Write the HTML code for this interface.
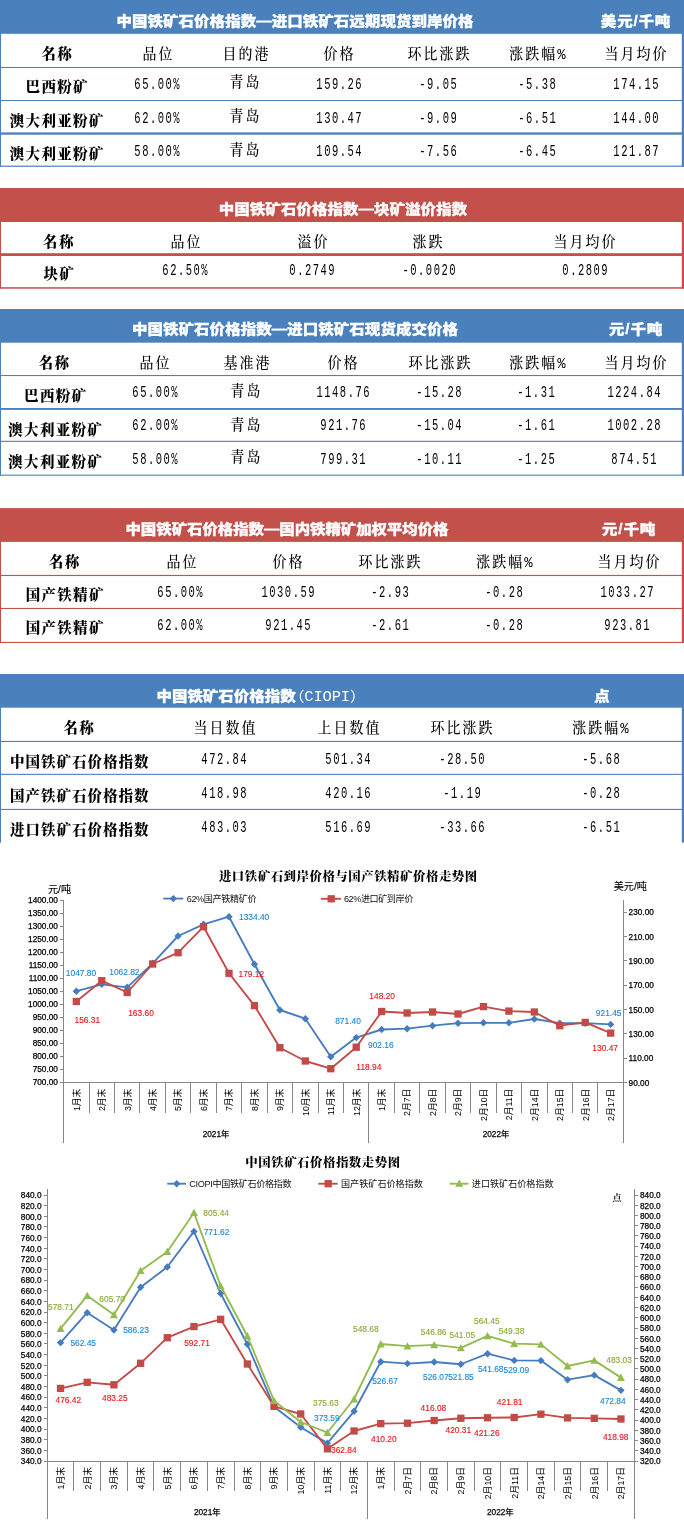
<!DOCTYPE html>
<html lang="zh-CN"><head><meta charset="utf-8"><title>中国铁矿石价格指数</title>
<style>
html,body{margin:0;padding:0;background:#fff;}
body{width:684px;height:1524px;position:relative;overflow:hidden;font-family:"Liberation Sans","Noto Sans CJK SC",sans-serif;}
#bg,#charts{position:absolute;left:0;top:0;width:684px;height:1524px;display:block;}
.t{position:absolute;white-space:nowrap;transform:translate(-50%,-50%);line-height:1;color:#000;}
.h,.h5{font-family:"Liberation Sans","Noto Sans CJK SC",sans-serif;font-weight:900;font-size:14px;color:#fff;letter-spacing:0.05px;transform:translate(-50%,-50%) scaleX(1.105);-webkit-text-stroke:0.3px #fff;}
.hu{letter-spacing:0.75px;}
.h4{letter-spacing:-0.08px;}
.h5 b{font-weight:900;}
.h5 b{letter-spacing:0px;}
.h5 .lt{font-weight:400;font-family:"Liberation Mono","Noto Sans CJK SC",monospace;font-size:14px;letter-spacing:-0.15px;-webkit-text-stroke:0;font-feature-settings:"halt";margin-left:1px;}
.k{font-family:"Liberation Serif","Noto Serif CJK SC",serif;font-size:15px;letter-spacing:2.2px;padding-left:1.2px;font-weight:500;transform:translate(-50%,-50%) scaleX(0.93);}
.b{font-family:"Liberation Serif","Noto Serif CJK SC",serif;font-size:14.5px;letter-spacing:1.3px;padding-left:0.4px;font-weight:900;}
.b5{letter-spacing:1.0px;}
.n{font-family:"Liberation Mono",monospace;font-size:16.4px;letter-spacing:2.35px;padding-left:2.35px;transform:translate(-50%,-50%) scaleX(0.64);}
.kp{font-family:"Liberation Mono","Noto Serif CJK SC",monospace;margin-top:1px;margin-left:-0.5px;}
svg text{font-family:"Liberation Sans","Noto Sans CJK SC",sans-serif;}
.ttl{font-size:12.4px;font-weight:900;fill:#000;letter-spacing:0.55px;font-family:"Liberation Serif","Noto Serif CJK SC",serif;}
.tick{font-size:8.25px;fill:#000;stroke:#000;stroke-width:0.25px;}
.unit{font-size:10.1px;fill:#000;stroke:#000;stroke-width:0.12px;}
.leg{font-size:9.1px;fill:#111;}
.lat{font-size:8.8px;}
.cat{font-size:8.8px;fill:#000;}
.dl{font-size:8.4px;stroke-width:0.12px;}
.pt{font-size:9px;fill:#1a1a2a;font-family:"Liberation Serif","Noto Serif CJK SC",serif;font-weight:700;}
</style></head><body>
<svg id="bg" width="684" height="1524" viewBox="0 0 684 1524">
<rect x="0" y="0" width="684" height="33.8" fill="#4a80bc"/>
<rect x="0" y="33" width="1" height="133.6" fill="#4a80bc"/>
<rect x="681.8" y="33" width="2.2" height="133.6" fill="#4a80bc"/>
<rect x="0" y="66.95" width="684" height="1.05" fill="#4a80bc"/>
<rect x="0" y="100" width="684" height="1.05" fill="#4a80bc"/>
<rect x="0" y="132.4" width="684" height="2.3" fill="#4a80bc"/>
<rect x="0" y="165.6" width="684" height="1.2" fill="#4a80bc"/>
<rect x="0" y="188" width="684" height="34" fill="#c4504c"/>
<rect x="0" y="221" width="1" height="67.6" fill="#c4504c"/>
<rect x="681.8" y="221" width="2.2" height="67.6" fill="#c4504c"/>
<rect x="0" y="253.2" width="684" height="2.8" fill="#c4504c"/>
<rect x="0" y="287.2" width="684" height="1.5" fill="#c4504c"/>
<rect x="0" y="309" width="684" height="33.7" fill="#4a80bc"/>
<rect x="0" y="342" width="1" height="133.6" fill="#4a80bc"/>
<rect x="681.8" y="342" width="2.2" height="133.6" fill="#4a80bc"/>
<rect x="0" y="375" width="684" height="1.05" fill="#4a80bc"/>
<rect x="0" y="408" width="684" height="1.9" fill="#4a80bc"/>
<rect x="0" y="440.8" width="684" height="1.1" fill="#4a80bc"/>
<rect x="0" y="474.6" width="684" height="1.1" fill="#4a80bc"/>
<rect x="0" y="508.1" width="684" height="33.8" fill="#c4504c"/>
<rect x="0" y="541" width="1" height="102" fill="#c4504c"/>
<rect x="681.8" y="541" width="2.2" height="102" fill="#c4504c"/>
<rect x="0" y="574.9" width="684" height="1.15" fill="#c4504c"/>
<rect x="0" y="607.9" width="684" height="1.1" fill="#c4504c"/>
<rect x="0" y="641.9" width="684" height="1.1" fill="#c4504c"/>
<rect x="0" y="674" width="684" height="33.7" fill="#4a80bc"/>
<rect x="0" y="707" width="1" height="135.6" fill="#4a80bc"/>
<rect x="681.8" y="707" width="2.2" height="135.6" fill="#4a80bc"/>
<rect x="0" y="740.9" width="684" height="1.1" fill="#4a80bc"/>
<rect x="0" y="773.8" width="684" height="1.1" fill="#4a80bc"/>
<rect x="0" y="808.9" width="684" height="1.1" fill="#4a80bc"/>
</svg>
<div class="t h" style="left:295px;top:21.3px">中国铁矿石价格指数—进口铁矿石远期现货到岸价格</div>
<div class="t h hu" style="left:636px;top:21.3px">美元/千吨</div>
<div class="t b" style="left:57px;top:54px">名称</div>
<div class="t k" style="left:157.5px;top:54px">品位</div>
<div class="t k" style="left:246px;top:54px">目的港</div>
<div class="t k" style="left:339.3px;top:54px">价格</div>
<div class="t k" style="left:439px;top:54px">环比涨跌</div>
<div class="t k kp" style="left:538.5px;top:54px">涨跌幅%</div>
<div class="t k" style="left:635.8px;top:54px">当月均价</div>
<div class="t b" style="left:57px;top:86.7px">巴西粉矿</div>
<div class="t n" style="left:157.2px;top:84.6px">65.00%</div>
<div class="t k" style="left:245.2px;top:82.3px">青岛</div>
<div class="t n" style="left:338.8px;top:84.6px">159.26</div>
<div class="t n" style="left:438.2px;top:84.6px">-9.05</div>
<div class="t n" style="left:537.2px;top:84.6px">-5.38</div>
<div class="t n" style="left:635.5px;top:84.6px">174.15</div>
<div class="t b" style="left:57px;top:120.8px">澳大利亚粉矿</div>
<div class="t n" style="left:157.2px;top:118.7px">62.00%</div>
<div class="t k" style="left:245.2px;top:116.4px">青岛</div>
<div class="t n" style="left:338.8px;top:118.7px">130.47</div>
<div class="t n" style="left:438.2px;top:118.7px">-9.09</div>
<div class="t n" style="left:537.2px;top:118.7px">-6.51</div>
<div class="t n" style="left:635.5px;top:118.7px">144.00</div>
<div class="t b" style="left:57px;top:154.2px">澳大利亚粉矿</div>
<div class="t n" style="left:157.2px;top:152.1px">58.00%</div>
<div class="t k" style="left:245.2px;top:149.8px">青岛</div>
<div class="t n" style="left:338.8px;top:152.1px">109.54</div>
<div class="t n" style="left:438.2px;top:152.1px">-7.56</div>
<div class="t n" style="left:537.2px;top:152.1px">-6.45</div>
<div class="t n" style="left:635.5px;top:152.1px">121.87</div>
<div class="t h" style="left:342.9px;top:209.2px">中国铁矿石价格指数—块矿溢价指数</div>
<div class="t b" style="left:58.7px;top:242px">名称</div>
<div class="t k" style="left:185.5px;top:242px">品位</div>
<div class="t k" style="left:312.5px;top:242px">溢价</div>
<div class="t k" style="left:428.3px;top:242px">涨跌</div>
<div class="t k" style="left:585.3px;top:242px">当月均价</div>
<div class="t b" style="left:59px;top:274.2px">块矿</div>
<div class="t n" style="left:185px;top:271.4px">62.50%</div>
<div class="t n" style="left:311.8px;top:271.4px">0.2749</div>
<div class="t n" style="left:428.5px;top:271.4px">-0.0020</div>
<div class="t n" style="left:585.2px;top:271.4px">0.2809</div>
<div class="t h" style="left:295.4px;top:329.3px">中国铁矿石价格指数—进口铁矿石现货成交价格</div>
<div class="t h hu" style="left:635.8px;top:329.3px">元/千吨</div>
<div class="t b" style="left:54.3px;top:362.5px">名称</div>
<div class="t k" style="left:154.5px;top:362.5px">品位</div>
<div class="t k" style="left:246.8px;top:362.5px">基准港</div>
<div class="t k" style="left:343px;top:362.5px">价格</div>
<div class="t k" style="left:440.3px;top:362.5px">环比涨跌</div>
<div class="t k kp" style="left:538px;top:362.5px">涨跌幅%</div>
<div class="t k" style="left:635.5px;top:362.5px">当月均价</div>
<div class="t b" style="left:55.5px;top:395.8px">巴西粉矿</div>
<div class="t n" style="left:154.5px;top:392.5px">65.00%</div>
<div class="t k" style="left:246px;top:391.1px">青岛</div>
<div class="t n" style="left:343.1px;top:392.5px">1148.76</div>
<div class="t n" style="left:439px;top:392.5px">-15.28</div>
<div class="t n" style="left:536px;top:392.5px">-1.31</div>
<div class="t n" style="left:634.2px;top:392.5px">1224.84</div>
<div class="t b" style="left:55.5px;top:429.6px">澳大利亚粉矿</div>
<div class="t n" style="left:154.5px;top:426.2px">62.00%</div>
<div class="t k" style="left:246px;top:424.9px">青岛</div>
<div class="t n" style="left:343.1px;top:426.2px">921.76</div>
<div class="t n" style="left:439px;top:426.2px">-15.04</div>
<div class="t n" style="left:536px;top:426.2px">-1.61</div>
<div class="t n" style="left:634.2px;top:426.2px">1002.28</div>
<div class="t b" style="left:55.5px;top:461.5px">澳大利亚粉矿</div>
<div class="t n" style="left:154.5px;top:460.1px">58.00%</div>
<div class="t k" style="left:246px;top:456.8px">青岛</div>
<div class="t n" style="left:343.1px;top:460.1px">799.31</div>
<div class="t n" style="left:439px;top:460.1px">-10.11</div>
<div class="t n" style="left:536px;top:460.1px">-1.25</div>
<div class="t n" style="left:634.2px;top:460.1px">874.51</div>
<div class="t h h4" style="left:287.4px;top:528.8px">中国铁矿石价格指数—国内铁精矿加权平均价格</div>
<div class="t h hu" style="left:628.5px;top:528.8px">元/千吨</div>
<div class="t b" style="left:64.5px;top:562.2px">名称</div>
<div class="t k" style="left:181.7px;top:562.2px">品位</div>
<div class="t k" style="left:288px;top:562.2px">价格</div>
<div class="t k" style="left:390px;top:562.2px">环比涨跌</div>
<div class="t k kp" style="left:505px;top:562.2px">涨跌幅%</div>
<div class="t k" style="left:628.5px;top:562.2px">当月均价</div>
<div class="t b" style="left:65px;top:594.6px">国产铁精矿</div>
<div class="t n" style="left:180.3px;top:592.5px">65.00%</div>
<div class="t n" style="left:287.8px;top:592.5px">1030.59</div>
<div class="t n" style="left:389.7px;top:592.5px">-2.93</div>
<div class="t n" style="left:504.3px;top:592.5px">-0.28</div>
<div class="t n" style="left:627.2px;top:592.5px">1033.27</div>
<div class="t b" style="left:65px;top:628.3px">国产铁精矿</div>
<div class="t n" style="left:180.3px;top:626.2px">62.00%</div>
<div class="t n" style="left:287.8px;top:626.2px">921.45</div>
<div class="t n" style="left:389.7px;top:626.2px">-2.61</div>
<div class="t n" style="left:504.3px;top:626.2px">-0.28</div>
<div class="t n" style="left:627.2px;top:626.2px">923.81</div>
<div class="t h5" style="left:257px;top:695.8px"><b>中国铁矿石价格指数</b><span class="lt">（CIOPI）</span></div>
<div class="t h" style="left:602.2px;top:695.8px">点</div>
<div class="t b" style="left:79px;top:727.8px">名称</div>
<div class="t k" style="left:224.8px;top:727.8px">当日数值</div>
<div class="t k" style="left:349px;top:727.8px">上日数值</div>
<div class="t k" style="left:462.3px;top:727.8px">环比涨跌</div>
<div class="t k kp" style="left:601px;top:727.8px">涨跌幅%</div>
<div class="t b b5" style="left:79.6px;top:761.8px">中国铁矿石价格指数</div>
<div class="t n" style="left:224px;top:759.7px">472.84</div>
<div class="t n" style="left:348px;top:759.7px">501.34</div>
<div class="t n" style="left:462px;top:759.7px">-28.50</div>
<div class="t n" style="left:600.5px;top:759.7px">-5.68</div>
<div class="t b b5" style="left:79.6px;top:795.7px">国产铁矿石价格指数</div>
<div class="t n" style="left:224px;top:793.6px">418.98</div>
<div class="t n" style="left:348px;top:793.6px">420.16</div>
<div class="t n" style="left:462px;top:793.6px">-1.19</div>
<div class="t n" style="left:600.5px;top:793.6px">-0.28</div>
<div class="t b b5" style="left:79.6px;top:829.6px">进口铁矿石价格指数</div>
<div class="t n" style="left:224px;top:827.5px">483.03</div>
<div class="t n" style="left:348px;top:827.5px">516.69</div>
<div class="t n" style="left:462px;top:827.5px">-33.66</div>
<div class="t n" style="left:600.5px;top:827.5px">-6.51</div>
<svg id="charts" width="684" height="1524" viewBox="0 0 684 1524">
<text x="348.3" y="880.6" class="ttl" text-anchor="middle">进口铁矿石到岸价格与国产铁精矿价格走势图</text>
<text x="59.5" y="893.3" class="unit" text-anchor="middle">元/吨</text>
<text x="630.3" y="889.7" class="unit" text-anchor="middle">美元/吨</text>
<line x1="63.6" y1="899.7" x2="63.6" y2="1142.7" stroke="#868686" stroke-width="1" shape-rendering="crispEdges"/>
<line x1="623.4" y1="899.7" x2="623.4" y2="1142.7" stroke="#868686" stroke-width="1" shape-rendering="crispEdges"/>
<line x1="63.6" y1="1082.5" x2="623.4" y2="1082.5" stroke="#868686" stroke-width="1" shape-rendering="crispEdges"/>
<line x1="60.4" y1="900.2" x2="63.6" y2="900.2" stroke="#868686" stroke-width="1" shape-rendering="crispEdges"/>
<text x="57.9" y="903" class="tick" text-anchor="end">1400.00</text>
<line x1="60.4" y1="913.22" x2="63.6" y2="913.22" stroke="#868686" stroke-width="1" shape-rendering="crispEdges"/>
<text x="57.9" y="916.02" class="tick" text-anchor="end">1350.00</text>
<line x1="60.4" y1="926.24" x2="63.6" y2="926.24" stroke="#868686" stroke-width="1" shape-rendering="crispEdges"/>
<text x="57.9" y="929.04" class="tick" text-anchor="end">1300.00</text>
<line x1="60.4" y1="939.26" x2="63.6" y2="939.26" stroke="#868686" stroke-width="1" shape-rendering="crispEdges"/>
<text x="57.9" y="942.06" class="tick" text-anchor="end">1250.00</text>
<line x1="60.4" y1="952.29" x2="63.6" y2="952.29" stroke="#868686" stroke-width="1" shape-rendering="crispEdges"/>
<text x="57.9" y="955.09" class="tick" text-anchor="end">1200.00</text>
<line x1="60.4" y1="965.31" x2="63.6" y2="965.31" stroke="#868686" stroke-width="1" shape-rendering="crispEdges"/>
<text x="57.9" y="968.11" class="tick" text-anchor="end">1150.00</text>
<line x1="60.4" y1="978.33" x2="63.6" y2="978.33" stroke="#868686" stroke-width="1" shape-rendering="crispEdges"/>
<text x="57.9" y="981.13" class="tick" text-anchor="end">1100.00</text>
<line x1="60.4" y1="991.35" x2="63.6" y2="991.35" stroke="#868686" stroke-width="1" shape-rendering="crispEdges"/>
<text x="57.9" y="994.15" class="tick" text-anchor="end">1050.00</text>
<line x1="60.4" y1="1004.37" x2="63.6" y2="1004.37" stroke="#868686" stroke-width="1" shape-rendering="crispEdges"/>
<text x="57.9" y="1007.17" class="tick" text-anchor="end">1000.00</text>
<line x1="60.4" y1="1017.39" x2="63.6" y2="1017.39" stroke="#868686" stroke-width="1" shape-rendering="crispEdges"/>
<text x="57.9" y="1020.19" class="tick" text-anchor="end">950.00</text>
<line x1="60.4" y1="1030.41" x2="63.6" y2="1030.41" stroke="#868686" stroke-width="1" shape-rendering="crispEdges"/>
<text x="57.9" y="1033.21" class="tick" text-anchor="end">900.00</text>
<line x1="60.4" y1="1043.44" x2="63.6" y2="1043.44" stroke="#868686" stroke-width="1" shape-rendering="crispEdges"/>
<text x="57.9" y="1046.24" class="tick" text-anchor="end">850.00</text>
<line x1="60.4" y1="1056.46" x2="63.6" y2="1056.46" stroke="#868686" stroke-width="1" shape-rendering="crispEdges"/>
<text x="57.9" y="1059.26" class="tick" text-anchor="end">800.00</text>
<line x1="60.4" y1="1069.48" x2="63.6" y2="1069.48" stroke="#868686" stroke-width="1" shape-rendering="crispEdges"/>
<text x="57.9" y="1072.28" class="tick" text-anchor="end">750.00</text>
<line x1="60.4" y1="1082.5" x2="63.6" y2="1082.5" stroke="#868686" stroke-width="1" shape-rendering="crispEdges"/>
<text x="57.9" y="1085.3" class="tick" text-anchor="end">700.00</text>
<line x1="623.4" y1="912.35" x2="626.6" y2="912.35" stroke="#868686" stroke-width="1" shape-rendering="crispEdges"/>
<text x="628.6" y="915.35" class="tick" text-anchor="start">230.00</text>
<line x1="623.4" y1="936.66" x2="626.6" y2="936.66" stroke="#868686" stroke-width="1" shape-rendering="crispEdges"/>
<text x="628.6" y="939.66" class="tick" text-anchor="start">210.00</text>
<line x1="623.4" y1="960.97" x2="626.6" y2="960.97" stroke="#868686" stroke-width="1" shape-rendering="crispEdges"/>
<text x="628.6" y="963.97" class="tick" text-anchor="start">190.00</text>
<line x1="623.4" y1="985.27" x2="626.6" y2="985.27" stroke="#868686" stroke-width="1" shape-rendering="crispEdges"/>
<text x="628.6" y="988.27" class="tick" text-anchor="start">170.00</text>
<line x1="623.4" y1="1009.58" x2="626.6" y2="1009.58" stroke="#868686" stroke-width="1" shape-rendering="crispEdges"/>
<text x="628.6" y="1012.58" class="tick" text-anchor="start">150.00</text>
<line x1="623.4" y1="1033.89" x2="626.6" y2="1033.89" stroke="#868686" stroke-width="1" shape-rendering="crispEdges"/>
<text x="628.6" y="1036.89" class="tick" text-anchor="start">130.00</text>
<line x1="623.4" y1="1058.19" x2="626.6" y2="1058.19" stroke="#868686" stroke-width="1" shape-rendering="crispEdges"/>
<text x="628.6" y="1061.19" class="tick" text-anchor="start">110.00</text>
<line x1="623.4" y1="1082.5" x2="626.6" y2="1082.5" stroke="#868686" stroke-width="1" shape-rendering="crispEdges"/>
<text x="628.6" y="1085.5" class="tick" text-anchor="start">90.00</text>
<line x1="89.05" y1="1082.5" x2="89.05" y2="1112.7" stroke="#868686" stroke-width="1" shape-rendering="crispEdges"/>
<line x1="114.49" y1="1082.5" x2="114.49" y2="1112.7" stroke="#868686" stroke-width="1" shape-rendering="crispEdges"/>
<line x1="139.94" y1="1082.5" x2="139.94" y2="1112.7" stroke="#868686" stroke-width="1" shape-rendering="crispEdges"/>
<line x1="165.38" y1="1082.5" x2="165.38" y2="1112.7" stroke="#868686" stroke-width="1" shape-rendering="crispEdges"/>
<line x1="190.83" y1="1082.5" x2="190.83" y2="1112.7" stroke="#868686" stroke-width="1" shape-rendering="crispEdges"/>
<line x1="216.27" y1="1082.5" x2="216.27" y2="1112.7" stroke="#868686" stroke-width="1" shape-rendering="crispEdges"/>
<line x1="241.72" y1="1082.5" x2="241.72" y2="1112.7" stroke="#868686" stroke-width="1" shape-rendering="crispEdges"/>
<line x1="267.16" y1="1082.5" x2="267.16" y2="1112.7" stroke="#868686" stroke-width="1" shape-rendering="crispEdges"/>
<line x1="292.61" y1="1082.5" x2="292.61" y2="1112.7" stroke="#868686" stroke-width="1" shape-rendering="crispEdges"/>
<line x1="318.05" y1="1082.5" x2="318.05" y2="1112.7" stroke="#868686" stroke-width="1" shape-rendering="crispEdges"/>
<line x1="343.5" y1="1082.5" x2="343.5" y2="1112.7" stroke="#868686" stroke-width="1" shape-rendering="crispEdges"/>
<line x1="368.95" y1="1082.5" x2="368.95" y2="1142.7" stroke="#868686" stroke-width="1" shape-rendering="crispEdges"/>
<line x1="394.39" y1="1082.5" x2="394.39" y2="1112.7" stroke="#868686" stroke-width="1" shape-rendering="crispEdges"/>
<line x1="419.84" y1="1082.5" x2="419.84" y2="1112.7" stroke="#868686" stroke-width="1" shape-rendering="crispEdges"/>
<line x1="445.28" y1="1082.5" x2="445.28" y2="1112.7" stroke="#868686" stroke-width="1" shape-rendering="crispEdges"/>
<line x1="470.73" y1="1082.5" x2="470.73" y2="1112.7" stroke="#868686" stroke-width="1" shape-rendering="crispEdges"/>
<line x1="496.17" y1="1082.5" x2="496.17" y2="1112.7" stroke="#868686" stroke-width="1" shape-rendering="crispEdges"/>
<line x1="521.62" y1="1082.5" x2="521.62" y2="1112.7" stroke="#868686" stroke-width="1" shape-rendering="crispEdges"/>
<line x1="547.06" y1="1082.5" x2="547.06" y2="1112.7" stroke="#868686" stroke-width="1" shape-rendering="crispEdges"/>
<line x1="572.51" y1="1082.5" x2="572.51" y2="1112.7" stroke="#868686" stroke-width="1" shape-rendering="crispEdges"/>
<line x1="597.95" y1="1082.5" x2="597.95" y2="1112.7" stroke="#868686" stroke-width="1" shape-rendering="crispEdges"/>
<text transform="translate(79.62 1088.6) rotate(-90)" class="cat" text-anchor="end">1月末</text>
<text transform="translate(105.07 1088.6) rotate(-90)" class="cat" text-anchor="end">2月末</text>
<text transform="translate(130.51 1088.6) rotate(-90)" class="cat" text-anchor="end">3月末</text>
<text transform="translate(155.96 1088.6) rotate(-90)" class="cat" text-anchor="end">4月末</text>
<text transform="translate(181.4 1088.6) rotate(-90)" class="cat" text-anchor="end">5月末</text>
<text transform="translate(206.85 1088.6) rotate(-90)" class="cat" text-anchor="end">6月末</text>
<text transform="translate(232.3 1088.6) rotate(-90)" class="cat" text-anchor="end">7月末</text>
<text transform="translate(257.74 1088.6) rotate(-90)" class="cat" text-anchor="end">8月末</text>
<text transform="translate(283.19 1088.6) rotate(-90)" class="cat" text-anchor="end">9月末</text>
<text transform="translate(308.63 1088.6) rotate(-90)" class="cat" text-anchor="end">10月末</text>
<text transform="translate(334.08 1088.6) rotate(-90)" class="cat" text-anchor="end">11月末</text>
<text transform="translate(359.52 1088.6) rotate(-90)" class="cat" text-anchor="end">12月末</text>
<text transform="translate(384.97 1088.6) rotate(-90)" class="cat" text-anchor="end">1月末</text>
<text transform="translate(410.41 1088.6) rotate(-90)" class="cat" text-anchor="end">2月7日</text>
<text transform="translate(435.86 1088.6) rotate(-90)" class="cat" text-anchor="end">2月8日</text>
<text transform="translate(461.3 1088.6) rotate(-90)" class="cat" text-anchor="end">2月9日</text>
<text transform="translate(486.75 1088.6) rotate(-90)" class="cat" text-anchor="end">2月10日</text>
<text transform="translate(512.2 1088.6) rotate(-90)" class="cat" text-anchor="end">2月11日</text>
<text transform="translate(537.64 1088.6) rotate(-90)" class="cat" text-anchor="end">2月14日</text>
<text transform="translate(563.09 1088.6) rotate(-90)" class="cat" text-anchor="end">2月15日</text>
<text transform="translate(588.53 1088.6) rotate(-90)" class="cat" text-anchor="end">2月16日</text>
<text transform="translate(613.98 1088.6) rotate(-90)" class="cat" text-anchor="end">2月17日</text>
<text x="216" y="1137.2" class="tick" text-anchor="middle">2021年</text>
<text x="496" y="1137.2" class="tick" text-anchor="middle">2022年</text>
<line x1="163.3" y1="898.6" x2="183.3" y2="898.6" stroke="#467cbf" stroke-width="1.85"/>
<path d="M169.6 898.6L173.3 894.9L177 898.6L173.3 902.3Z" fill="#467cbf"/>
<text x="186.7" y="901.9" class="leg" text-anchor="start" textLength="70" lengthAdjust="spacing">62%国产铁精矿价</text>
<line x1="320.8" y1="898.8" x2="341" y2="898.8" stroke="#c24a47" stroke-width="1.85"/>
<rect x="327.55" y="895.15" width="7.3" height="7.3" fill="#c24a47"/>
<text x="344" y="901.9" class="leg" text-anchor="start" textLength="69.3" lengthAdjust="spacing">62%进口矿到岸价</text>
<polyline fill="none" stroke="#467cbf" stroke-width="1.85" stroke-linejoin="round" stroke-linecap="round" points="76.32,991.2 101.77,984.3 127.21,987.3 152.66,963.3 178.1,936 203.55,924.3 229,916.7 254.44,964.3 279.89,1010 305.33,1018.7 330.78,1056.7 356.22,1037.6 381.67,1029.5 407.11,1028.7 432.56,1025.7 458,1023.2 483.45,1022.8 508.9,1022.8 534.34,1019 559.79,1023.2 585.23,1023.2 610.68,1024.4"/>
<path d="M72.62 991.2L76.32 987.5L80.02 991.2L76.32 994.9Z" fill="#467cbf"/>
<path d="M98.07 984.3L101.77 980.6L105.47 984.3L101.77 988Z" fill="#467cbf"/>
<path d="M123.51 987.3L127.21 983.6L130.91 987.3L127.21 991Z" fill="#467cbf"/>
<path d="M148.96 963.3L152.66 959.6L156.36 963.3L152.66 967Z" fill="#467cbf"/>
<path d="M174.4 936L178.1 932.3L181.8 936L178.1 939.7Z" fill="#467cbf"/>
<path d="M199.85 924.3L203.55 920.6L207.25 924.3L203.55 928Z" fill="#467cbf"/>
<path d="M225.3 916.7L229 913L232.7 916.7L229 920.4Z" fill="#467cbf"/>
<path d="M250.74 964.3L254.44 960.6L258.14 964.3L254.44 968Z" fill="#467cbf"/>
<path d="M276.19 1010L279.89 1006.3L283.59 1010L279.89 1013.7Z" fill="#467cbf"/>
<path d="M301.63 1018.7L305.33 1015L309.03 1018.7L305.33 1022.4Z" fill="#467cbf"/>
<path d="M327.08 1056.7L330.78 1053L334.48 1056.7L330.78 1060.4Z" fill="#467cbf"/>
<path d="M352.52 1037.6L356.22 1033.9L359.92 1037.6L356.22 1041.3Z" fill="#467cbf"/>
<path d="M377.97 1029.5L381.67 1025.8L385.37 1029.5L381.67 1033.2Z" fill="#467cbf"/>
<path d="M403.41 1028.7L407.11 1025L410.81 1028.7L407.11 1032.4Z" fill="#467cbf"/>
<path d="M428.86 1025.7L432.56 1022L436.26 1025.7L432.56 1029.4Z" fill="#467cbf"/>
<path d="M454.3 1023.2L458 1019.5L461.7 1023.2L458 1026.9Z" fill="#467cbf"/>
<path d="M479.75 1022.8L483.45 1019.1L487.15 1022.8L483.45 1026.5Z" fill="#467cbf"/>
<path d="M505.2 1022.8L508.9 1019.1L512.6 1022.8L508.9 1026.5Z" fill="#467cbf"/>
<path d="M530.64 1019L534.34 1015.3L538.04 1019L534.34 1022.7Z" fill="#467cbf"/>
<path d="M556.09 1023.2L559.79 1019.5L563.49 1023.2L559.79 1026.9Z" fill="#467cbf"/>
<path d="M581.53 1023.2L585.23 1019.5L588.93 1023.2L585.23 1026.9Z" fill="#467cbf"/>
<path d="M606.98 1024.4L610.68 1020.7L614.38 1024.4L610.68 1028.1Z" fill="#467cbf"/>
<polyline fill="none" stroke="#c24a47" stroke-width="1.85" stroke-linejoin="round" stroke-linecap="round" points="76.32,1001.5 101.77,980.7 127.21,992.5 152.66,964 178.1,952.7 203.55,926.7 229,973.3 254.44,1005.6 279.89,1047.7 305.33,1061 330.78,1068.7 356.22,1047.2 381.67,1011.5 407.11,1013 432.56,1012 458,1014 483.45,1006.6 508.9,1011.1 534.34,1012 559.79,1025.7 585.23,1022.4 610.68,1033.1"/>
<rect x="72.67" y="997.85" width="7.3" height="7.3" fill="#c24a47"/>
<rect x="98.12" y="977.05" width="7.3" height="7.3" fill="#c24a47"/>
<rect x="123.56" y="988.85" width="7.3" height="7.3" fill="#c24a47"/>
<rect x="149.01" y="960.35" width="7.3" height="7.3" fill="#c24a47"/>
<rect x="174.45" y="949.05" width="7.3" height="7.3" fill="#c24a47"/>
<rect x="199.9" y="923.05" width="7.3" height="7.3" fill="#c24a47"/>
<rect x="225.35" y="969.65" width="7.3" height="7.3" fill="#c24a47"/>
<rect x="250.79" y="1001.95" width="7.3" height="7.3" fill="#c24a47"/>
<rect x="276.24" y="1044.05" width="7.3" height="7.3" fill="#c24a47"/>
<rect x="301.68" y="1057.35" width="7.3" height="7.3" fill="#c24a47"/>
<rect x="327.13" y="1065.05" width="7.3" height="7.3" fill="#c24a47"/>
<rect x="352.57" y="1043.55" width="7.3" height="7.3" fill="#c24a47"/>
<rect x="378.02" y="1007.85" width="7.3" height="7.3" fill="#c24a47"/>
<rect x="403.46" y="1009.35" width="7.3" height="7.3" fill="#c24a47"/>
<rect x="428.91" y="1008.35" width="7.3" height="7.3" fill="#c24a47"/>
<rect x="454.35" y="1010.35" width="7.3" height="7.3" fill="#c24a47"/>
<rect x="479.8" y="1002.95" width="7.3" height="7.3" fill="#c24a47"/>
<rect x="505.25" y="1007.45" width="7.3" height="7.3" fill="#c24a47"/>
<rect x="530.69" y="1008.35" width="7.3" height="7.3" fill="#c24a47"/>
<rect x="556.14" y="1022.05" width="7.3" height="7.3" fill="#c24a47"/>
<rect x="581.58" y="1018.75" width="7.3" height="7.3" fill="#c24a47"/>
<rect x="607.03" y="1029.45" width="7.3" height="7.3" fill="#c24a47"/>
<text x="81" y="976.2" class="dl" text-anchor="middle" fill="#1a86dc" stroke="#1a86dc">1047.80</text>
<text x="124.4" y="974.5" class="dl" text-anchor="middle" fill="#1a86dc" stroke="#1a86dc">1062.82</text>
<text x="254.15" y="920" class="dl" text-anchor="middle" fill="#1a86dc" stroke="#1a86dc">1334.40</text>
<text x="348" y="1024" class="dl" text-anchor="middle" fill="#1a86dc" stroke="#1a86dc">871.40</text>
<text x="380.8" y="1047.7" class="dl" text-anchor="middle" fill="#1a86dc" stroke="#1a86dc">902.16</text>
<text x="608.65" y="1016.2" class="dl" text-anchor="middle" fill="#1a86dc" stroke="#1a86dc">921.45</text>
<text x="87.3" y="1023" class="dl" text-anchor="middle" fill="#f01418" stroke="#f01418">156.31</text>
<text x="141" y="1016.3" class="dl" text-anchor="middle" fill="#f01418" stroke="#f01418">163.60</text>
<text x="251.3" y="977" class="dl" text-anchor="middle" fill="#f01418" stroke="#f01418">179.12</text>
<text x="368.85" y="1070" class="dl" text-anchor="middle" fill="#f01418" stroke="#f01418">118.94</text>
<text x="382.15" y="998.8" class="dl" text-anchor="middle" fill="#f01418" stroke="#f01418">148.20</text>
<text x="605.15" y="1050.7" class="dl" text-anchor="middle" fill="#f01418" stroke="#f01418">130.47</text>
<text x="323" y="1166.6" class="ttl" text-anchor="middle">中国铁矿石价格指数走势图</text>
<text x="617" y="1201.4" class="pt" text-anchor="middle">点</text>
<line x1="47.2" y1="1189.1" x2="47.2" y2="1519" stroke="#868686" stroke-width="1" shape-rendering="crispEdges"/>
<line x1="634.3" y1="1189.1" x2="634.3" y2="1519" stroke="#868686" stroke-width="1" shape-rendering="crispEdges"/>
<line x1="47.2" y1="1461" x2="634.3" y2="1461" stroke="#868686" stroke-width="1" shape-rendering="crispEdges"/>
<line x1="44" y1="1195" x2="47.2" y2="1195" stroke="#868686" stroke-width="1" shape-rendering="crispEdges"/>
<text x="41.5" y="1198.3" class="tick" text-anchor="end">840.0</text>
<line x1="44" y1="1205.64" x2="47.2" y2="1205.64" stroke="#868686" stroke-width="1" shape-rendering="crispEdges"/>
<text x="41.5" y="1208.94" class="tick" text-anchor="end">820.0</text>
<line x1="44" y1="1216.28" x2="47.2" y2="1216.28" stroke="#868686" stroke-width="1" shape-rendering="crispEdges"/>
<text x="41.5" y="1219.58" class="tick" text-anchor="end">800.0</text>
<line x1="44" y1="1226.92" x2="47.2" y2="1226.92" stroke="#868686" stroke-width="1" shape-rendering="crispEdges"/>
<text x="41.5" y="1230.22" class="tick" text-anchor="end">780.0</text>
<line x1="44" y1="1237.56" x2="47.2" y2="1237.56" stroke="#868686" stroke-width="1" shape-rendering="crispEdges"/>
<text x="41.5" y="1240.86" class="tick" text-anchor="end">760.0</text>
<line x1="44" y1="1248.2" x2="47.2" y2="1248.2" stroke="#868686" stroke-width="1" shape-rendering="crispEdges"/>
<text x="41.5" y="1251.5" class="tick" text-anchor="end">740.0</text>
<line x1="44" y1="1258.84" x2="47.2" y2="1258.84" stroke="#868686" stroke-width="1" shape-rendering="crispEdges"/>
<text x="41.5" y="1262.14" class="tick" text-anchor="end">720.0</text>
<line x1="44" y1="1269.48" x2="47.2" y2="1269.48" stroke="#868686" stroke-width="1" shape-rendering="crispEdges"/>
<text x="41.5" y="1272.78" class="tick" text-anchor="end">700.0</text>
<line x1="44" y1="1280.12" x2="47.2" y2="1280.12" stroke="#868686" stroke-width="1" shape-rendering="crispEdges"/>
<text x="41.5" y="1283.42" class="tick" text-anchor="end">680.0</text>
<line x1="44" y1="1290.76" x2="47.2" y2="1290.76" stroke="#868686" stroke-width="1" shape-rendering="crispEdges"/>
<text x="41.5" y="1294.06" class="tick" text-anchor="end">660.0</text>
<line x1="44" y1="1301.4" x2="47.2" y2="1301.4" stroke="#868686" stroke-width="1" shape-rendering="crispEdges"/>
<text x="41.5" y="1304.7" class="tick" text-anchor="end">640.0</text>
<line x1="44" y1="1312.04" x2="47.2" y2="1312.04" stroke="#868686" stroke-width="1" shape-rendering="crispEdges"/>
<text x="41.5" y="1315.34" class="tick" text-anchor="end">620.0</text>
<line x1="44" y1="1322.68" x2="47.2" y2="1322.68" stroke="#868686" stroke-width="1" shape-rendering="crispEdges"/>
<text x="41.5" y="1325.98" class="tick" text-anchor="end">600.0</text>
<line x1="44" y1="1333.32" x2="47.2" y2="1333.32" stroke="#868686" stroke-width="1" shape-rendering="crispEdges"/>
<text x="41.5" y="1336.62" class="tick" text-anchor="end">580.0</text>
<line x1="44" y1="1343.96" x2="47.2" y2="1343.96" stroke="#868686" stroke-width="1" shape-rendering="crispEdges"/>
<text x="41.5" y="1347.26" class="tick" text-anchor="end">560.0</text>
<line x1="44" y1="1354.6" x2="47.2" y2="1354.6" stroke="#868686" stroke-width="1" shape-rendering="crispEdges"/>
<text x="41.5" y="1357.9" class="tick" text-anchor="end">540.0</text>
<line x1="44" y1="1365.24" x2="47.2" y2="1365.24" stroke="#868686" stroke-width="1" shape-rendering="crispEdges"/>
<text x="41.5" y="1368.54" class="tick" text-anchor="end">520.0</text>
<line x1="44" y1="1375.88" x2="47.2" y2="1375.88" stroke="#868686" stroke-width="1" shape-rendering="crispEdges"/>
<text x="41.5" y="1379.18" class="tick" text-anchor="end">500.0</text>
<line x1="44" y1="1386.52" x2="47.2" y2="1386.52" stroke="#868686" stroke-width="1" shape-rendering="crispEdges"/>
<text x="41.5" y="1389.82" class="tick" text-anchor="end">480.0</text>
<line x1="44" y1="1397.16" x2="47.2" y2="1397.16" stroke="#868686" stroke-width="1" shape-rendering="crispEdges"/>
<text x="41.5" y="1400.46" class="tick" text-anchor="end">460.0</text>
<line x1="44" y1="1407.8" x2="47.2" y2="1407.8" stroke="#868686" stroke-width="1" shape-rendering="crispEdges"/>
<text x="41.5" y="1411.1" class="tick" text-anchor="end">440.0</text>
<line x1="44" y1="1418.44" x2="47.2" y2="1418.44" stroke="#868686" stroke-width="1" shape-rendering="crispEdges"/>
<text x="41.5" y="1421.74" class="tick" text-anchor="end">420.0</text>
<line x1="44" y1="1429.08" x2="47.2" y2="1429.08" stroke="#868686" stroke-width="1" shape-rendering="crispEdges"/>
<text x="41.5" y="1432.38" class="tick" text-anchor="end">400.0</text>
<line x1="44" y1="1439.72" x2="47.2" y2="1439.72" stroke="#868686" stroke-width="1" shape-rendering="crispEdges"/>
<text x="41.5" y="1443.02" class="tick" text-anchor="end">380.0</text>
<line x1="44" y1="1450.36" x2="47.2" y2="1450.36" stroke="#868686" stroke-width="1" shape-rendering="crispEdges"/>
<text x="41.5" y="1453.66" class="tick" text-anchor="end">360.0</text>
<line x1="44" y1="1461" x2="47.2" y2="1461" stroke="#868686" stroke-width="1" shape-rendering="crispEdges"/>
<text x="41.5" y="1464.3" class="tick" text-anchor="end">340.0</text>
<line x1="634.3" y1="1195" x2="637.5" y2="1195" stroke="#868686" stroke-width="1" shape-rendering="crispEdges"/>
<text x="640" y="1198.3" class="tick" text-anchor="start">840.0</text>
<line x1="634.3" y1="1205.23" x2="637.5" y2="1205.23" stroke="#868686" stroke-width="1" shape-rendering="crispEdges"/>
<text x="640" y="1208.53" class="tick" text-anchor="start">820.0</text>
<line x1="634.3" y1="1215.46" x2="637.5" y2="1215.46" stroke="#868686" stroke-width="1" shape-rendering="crispEdges"/>
<text x="640" y="1218.76" class="tick" text-anchor="start">800.0</text>
<line x1="634.3" y1="1225.69" x2="637.5" y2="1225.69" stroke="#868686" stroke-width="1" shape-rendering="crispEdges"/>
<text x="640" y="1228.99" class="tick" text-anchor="start">780.0</text>
<line x1="634.3" y1="1235.92" x2="637.5" y2="1235.92" stroke="#868686" stroke-width="1" shape-rendering="crispEdges"/>
<text x="640" y="1239.22" class="tick" text-anchor="start">760.0</text>
<line x1="634.3" y1="1246.15" x2="637.5" y2="1246.15" stroke="#868686" stroke-width="1" shape-rendering="crispEdges"/>
<text x="640" y="1249.45" class="tick" text-anchor="start">740.0</text>
<line x1="634.3" y1="1256.38" x2="637.5" y2="1256.38" stroke="#868686" stroke-width="1" shape-rendering="crispEdges"/>
<text x="640" y="1259.68" class="tick" text-anchor="start">720.0</text>
<line x1="634.3" y1="1266.62" x2="637.5" y2="1266.62" stroke="#868686" stroke-width="1" shape-rendering="crispEdges"/>
<text x="640" y="1269.92" class="tick" text-anchor="start">700.0</text>
<line x1="634.3" y1="1276.85" x2="637.5" y2="1276.85" stroke="#868686" stroke-width="1" shape-rendering="crispEdges"/>
<text x="640" y="1280.15" class="tick" text-anchor="start">680.0</text>
<line x1="634.3" y1="1287.08" x2="637.5" y2="1287.08" stroke="#868686" stroke-width="1" shape-rendering="crispEdges"/>
<text x="640" y="1290.38" class="tick" text-anchor="start">660.0</text>
<line x1="634.3" y1="1297.31" x2="637.5" y2="1297.31" stroke="#868686" stroke-width="1" shape-rendering="crispEdges"/>
<text x="640" y="1300.61" class="tick" text-anchor="start">640.0</text>
<line x1="634.3" y1="1307.54" x2="637.5" y2="1307.54" stroke="#868686" stroke-width="1" shape-rendering="crispEdges"/>
<text x="640" y="1310.84" class="tick" text-anchor="start">620.0</text>
<line x1="634.3" y1="1317.77" x2="637.5" y2="1317.77" stroke="#868686" stroke-width="1" shape-rendering="crispEdges"/>
<text x="640" y="1321.07" class="tick" text-anchor="start">600.0</text>
<line x1="634.3" y1="1328" x2="637.5" y2="1328" stroke="#868686" stroke-width="1" shape-rendering="crispEdges"/>
<text x="640" y="1331.3" class="tick" text-anchor="start">580.0</text>
<line x1="634.3" y1="1338.23" x2="637.5" y2="1338.23" stroke="#868686" stroke-width="1" shape-rendering="crispEdges"/>
<text x="640" y="1341.53" class="tick" text-anchor="start">560.0</text>
<line x1="634.3" y1="1348.46" x2="637.5" y2="1348.46" stroke="#868686" stroke-width="1" shape-rendering="crispEdges"/>
<text x="640" y="1351.76" class="tick" text-anchor="start">540.0</text>
<line x1="634.3" y1="1358.69" x2="637.5" y2="1358.69" stroke="#868686" stroke-width="1" shape-rendering="crispEdges"/>
<text x="640" y="1361.99" class="tick" text-anchor="start">520.0</text>
<line x1="634.3" y1="1368.92" x2="637.5" y2="1368.92" stroke="#868686" stroke-width="1" shape-rendering="crispEdges"/>
<text x="640" y="1372.22" class="tick" text-anchor="start">500.0</text>
<line x1="634.3" y1="1379.15" x2="637.5" y2="1379.15" stroke="#868686" stroke-width="1" shape-rendering="crispEdges"/>
<text x="640" y="1382.45" class="tick" text-anchor="start">480.0</text>
<line x1="634.3" y1="1389.38" x2="637.5" y2="1389.38" stroke="#868686" stroke-width="1" shape-rendering="crispEdges"/>
<text x="640" y="1392.68" class="tick" text-anchor="start">460.0</text>
<line x1="634.3" y1="1399.62" x2="637.5" y2="1399.62" stroke="#868686" stroke-width="1" shape-rendering="crispEdges"/>
<text x="640" y="1402.92" class="tick" text-anchor="start">440.0</text>
<line x1="634.3" y1="1409.85" x2="637.5" y2="1409.85" stroke="#868686" stroke-width="1" shape-rendering="crispEdges"/>
<text x="640" y="1413.15" class="tick" text-anchor="start">420.0</text>
<line x1="634.3" y1="1420.08" x2="637.5" y2="1420.08" stroke="#868686" stroke-width="1" shape-rendering="crispEdges"/>
<text x="640" y="1423.38" class="tick" text-anchor="start">400.0</text>
<line x1="634.3" y1="1430.31" x2="637.5" y2="1430.31" stroke="#868686" stroke-width="1" shape-rendering="crispEdges"/>
<text x="640" y="1433.61" class="tick" text-anchor="start">380.0</text>
<line x1="634.3" y1="1440.54" x2="637.5" y2="1440.54" stroke="#868686" stroke-width="1" shape-rendering="crispEdges"/>
<text x="640" y="1443.84" class="tick" text-anchor="start">360.0</text>
<line x1="634.3" y1="1450.77" x2="637.5" y2="1450.77" stroke="#868686" stroke-width="1" shape-rendering="crispEdges"/>
<text x="640" y="1454.07" class="tick" text-anchor="start">340.0</text>
<line x1="634.3" y1="1461" x2="637.5" y2="1461" stroke="#868686" stroke-width="1" shape-rendering="crispEdges"/>
<text x="640" y="1464.3" class="tick" text-anchor="start">320.0</text>
<line x1="73.89" y1="1461" x2="73.89" y2="1491" stroke="#868686" stroke-width="1" shape-rendering="crispEdges"/>
<line x1="100.57" y1="1461" x2="100.57" y2="1491" stroke="#868686" stroke-width="1" shape-rendering="crispEdges"/>
<line x1="127.26" y1="1461" x2="127.26" y2="1491" stroke="#868686" stroke-width="1" shape-rendering="crispEdges"/>
<line x1="153.95" y1="1461" x2="153.95" y2="1491" stroke="#868686" stroke-width="1" shape-rendering="crispEdges"/>
<line x1="180.63" y1="1461" x2="180.63" y2="1491" stroke="#868686" stroke-width="1" shape-rendering="crispEdges"/>
<line x1="207.32" y1="1461" x2="207.32" y2="1491" stroke="#868686" stroke-width="1" shape-rendering="crispEdges"/>
<line x1="234" y1="1461" x2="234" y2="1491" stroke="#868686" stroke-width="1" shape-rendering="crispEdges"/>
<line x1="260.69" y1="1461" x2="260.69" y2="1491" stroke="#868686" stroke-width="1" shape-rendering="crispEdges"/>
<line x1="287.38" y1="1461" x2="287.38" y2="1491" stroke="#868686" stroke-width="1" shape-rendering="crispEdges"/>
<line x1="314.06" y1="1461" x2="314.06" y2="1491" stroke="#868686" stroke-width="1" shape-rendering="crispEdges"/>
<line x1="340.75" y1="1461" x2="340.75" y2="1491" stroke="#868686" stroke-width="1" shape-rendering="crispEdges"/>
<line x1="367.44" y1="1461" x2="367.44" y2="1519" stroke="#868686" stroke-width="1" shape-rendering="crispEdges"/>
<line x1="394.12" y1="1461" x2="394.12" y2="1491" stroke="#868686" stroke-width="1" shape-rendering="crispEdges"/>
<line x1="420.81" y1="1461" x2="420.81" y2="1491" stroke="#868686" stroke-width="1" shape-rendering="crispEdges"/>
<line x1="447.5" y1="1461" x2="447.5" y2="1491" stroke="#868686" stroke-width="1" shape-rendering="crispEdges"/>
<line x1="474.18" y1="1461" x2="474.18" y2="1491" stroke="#868686" stroke-width="1" shape-rendering="crispEdges"/>
<line x1="500.87" y1="1461" x2="500.87" y2="1491" stroke="#868686" stroke-width="1" shape-rendering="crispEdges"/>
<line x1="527.55" y1="1461" x2="527.55" y2="1491" stroke="#868686" stroke-width="1" shape-rendering="crispEdges"/>
<line x1="554.24" y1="1461" x2="554.24" y2="1491" stroke="#868686" stroke-width="1" shape-rendering="crispEdges"/>
<line x1="580.93" y1="1461" x2="580.93" y2="1491" stroke="#868686" stroke-width="1" shape-rendering="crispEdges"/>
<line x1="607.61" y1="1461" x2="607.61" y2="1491" stroke="#868686" stroke-width="1" shape-rendering="crispEdges"/>
<text transform="translate(63.84 1467) rotate(-90)" class="cat" text-anchor="end">1月末</text>
<text transform="translate(90.53 1467) rotate(-90)" class="cat" text-anchor="end">2月末</text>
<text transform="translate(117.22 1467) rotate(-90)" class="cat" text-anchor="end">3月末</text>
<text transform="translate(143.9 1467) rotate(-90)" class="cat" text-anchor="end">4月末</text>
<text transform="translate(170.59 1467) rotate(-90)" class="cat" text-anchor="end">5月末</text>
<text transform="translate(197.27 1467) rotate(-90)" class="cat" text-anchor="end">6月末</text>
<text transform="translate(223.96 1467) rotate(-90)" class="cat" text-anchor="end">7月末</text>
<text transform="translate(250.65 1467) rotate(-90)" class="cat" text-anchor="end">8月末</text>
<text transform="translate(277.33 1467) rotate(-90)" class="cat" text-anchor="end">9月末</text>
<text transform="translate(304.02 1467) rotate(-90)" class="cat" text-anchor="end">10月末</text>
<text transform="translate(330.71 1467) rotate(-90)" class="cat" text-anchor="end">11月末</text>
<text transform="translate(357.39 1467) rotate(-90)" class="cat" text-anchor="end">12月末</text>
<text transform="translate(384.08 1467) rotate(-90)" class="cat" text-anchor="end">1月末</text>
<text transform="translate(410.77 1467) rotate(-90)" class="cat" text-anchor="end">2月7日</text>
<text transform="translate(437.45 1467) rotate(-90)" class="cat" text-anchor="end">2月8日</text>
<text transform="translate(464.14 1467) rotate(-90)" class="cat" text-anchor="end">2月9日</text>
<text transform="translate(490.82 1467) rotate(-90)" class="cat" text-anchor="end">2月10日</text>
<text transform="translate(517.51 1467) rotate(-90)" class="cat" text-anchor="end">2月11日</text>
<text transform="translate(544.2 1467) rotate(-90)" class="cat" text-anchor="end">2月14日</text>
<text transform="translate(570.88 1467) rotate(-90)" class="cat" text-anchor="end">2月15日</text>
<text transform="translate(597.57 1467) rotate(-90)" class="cat" text-anchor="end">2月16日</text>
<text transform="translate(624.26 1467) rotate(-90)" class="cat" text-anchor="end">2月17日</text>
<text x="207.2" y="1515" class="tick" text-anchor="middle">2021年</text>
<text x="500.3" y="1515" class="tick" text-anchor="middle">2022年</text>
<line x1="167.3" y1="1183.7" x2="186" y2="1183.7" stroke="#467cbf" stroke-width="1.85"/>
<path d="M173 1183.7L176.7 1180L180.4 1183.7L176.7 1187.4Z" fill="#467cbf"/>
<text x="189.3" y="1187.1" class="leg" text-anchor="start" textLength="102.4" lengthAdjust="spacing">CIOPI中国铁矿石价格指数</text>
<line x1="318.3" y1="1183.7" x2="337.7" y2="1183.7" stroke="#c24a47" stroke-width="1.85"/>
<rect x="324.55" y="1180.05" width="7.3" height="7.3" fill="#c24a47"/>
<text x="341" y="1187.1" class="leg" text-anchor="start">国产铁矿石价格指数</text>
<line x1="449.8" y1="1183.7" x2="468.5" y2="1183.7" stroke="#93bb4f" stroke-width="1.85"/>
<path d="M459.3 1179.4L463.3 1186.8L455.3 1186.8Z" fill="#93bb4f"/>
<text x="471.8" y="1187.1" class="leg" text-anchor="start">进口铁矿石价格指数</text>
<polyline fill="none" stroke="#467cbf" stroke-width="1.85" stroke-linejoin="round" stroke-linecap="round" points="60.54,1342.66 87.23,1312.7 113.92,1330.01 140.6,1287.3 167.29,1267 193.97,1231.38 220.66,1293.5 247.35,1344.3 274.03,1406.7 300.72,1427.3 327.41,1443.13 354.09,1411.3 380.78,1361.69 407.47,1363.6 434.15,1362.01 460.84,1364.26 487.52,1353.71 514.21,1360.4 540.9,1360.6 567.58,1379.7 594.27,1375.17 620.96,1390.33"/>
<path d="M56.84 1342.66L60.54 1338.96L64.24 1342.66L60.54 1346.36Z" fill="#467cbf"/>
<path d="M83.53 1312.7L87.23 1309L90.93 1312.7L87.23 1316.4Z" fill="#467cbf"/>
<path d="M110.22 1330.01L113.92 1326.31L117.62 1330.01L113.92 1333.71Z" fill="#467cbf"/>
<path d="M136.9 1287.3L140.6 1283.6L144.3 1287.3L140.6 1291Z" fill="#467cbf"/>
<path d="M163.59 1267L167.29 1263.3L170.99 1267L167.29 1270.7Z" fill="#467cbf"/>
<path d="M190.27 1231.38L193.97 1227.68L197.67 1231.38L193.97 1235.08Z" fill="#467cbf"/>
<path d="M216.96 1293.5L220.66 1289.8L224.36 1293.5L220.66 1297.2Z" fill="#467cbf"/>
<path d="M243.65 1344.3L247.35 1340.6L251.05 1344.3L247.35 1348Z" fill="#467cbf"/>
<path d="M270.33 1406.7L274.03 1403L277.73 1406.7L274.03 1410.4Z" fill="#467cbf"/>
<path d="M297.02 1427.3L300.72 1423.6L304.42 1427.3L300.72 1431Z" fill="#467cbf"/>
<path d="M323.71 1443.13L327.41 1439.43L331.11 1443.13L327.41 1446.83Z" fill="#467cbf"/>
<path d="M350.39 1411.3L354.09 1407.6L357.79 1411.3L354.09 1415Z" fill="#467cbf"/>
<path d="M377.08 1361.69L380.78 1357.99L384.48 1361.69L380.78 1365.39Z" fill="#467cbf"/>
<path d="M403.77 1363.6L407.47 1359.9L411.17 1363.6L407.47 1367.3Z" fill="#467cbf"/>
<path d="M430.45 1362.01L434.15 1358.31L437.85 1362.01L434.15 1365.71Z" fill="#467cbf"/>
<path d="M457.14 1364.26L460.84 1360.56L464.54 1364.26L460.84 1367.96Z" fill="#467cbf"/>
<path d="M483.82 1353.71L487.52 1350.01L491.22 1353.71L487.52 1357.41Z" fill="#467cbf"/>
<path d="M510.51 1360.4L514.21 1356.7L517.91 1360.4L514.21 1364.1Z" fill="#467cbf"/>
<path d="M537.2 1360.6L540.9 1356.9L544.6 1360.6L540.9 1364.3Z" fill="#467cbf"/>
<path d="M563.88 1379.7L567.58 1376L571.28 1379.7L567.58 1383.4Z" fill="#467cbf"/>
<path d="M590.57 1375.17L594.27 1371.47L597.97 1375.17L594.27 1378.87Z" fill="#467cbf"/>
<path d="M617.26 1390.33L620.96 1386.63L624.66 1390.33L620.96 1394.03Z" fill="#467cbf"/>
<polyline fill="none" stroke="#c24a47" stroke-width="1.85" stroke-linejoin="round" stroke-linecap="round" points="60.54,1388.42 87.23,1382.3 113.92,1384.79 140.6,1363.3 167.29,1337.7 193.97,1326.56 220.66,1319.3 247.35,1364 274.03,1406.3 300.72,1414 327.41,1448.85 354.09,1431 380.78,1423.65 407.47,1423.2 434.15,1420.53 460.84,1418.28 487.52,1417.77 514.21,1417.48 540.9,1414.2 567.58,1417.9 594.27,1418.35 620.96,1418.98"/>
<rect x="56.89" y="1384.77" width="7.3" height="7.3" fill="#c24a47"/>
<rect x="83.58" y="1378.65" width="7.3" height="7.3" fill="#c24a47"/>
<rect x="110.27" y="1381.14" width="7.3" height="7.3" fill="#c24a47"/>
<rect x="136.95" y="1359.65" width="7.3" height="7.3" fill="#c24a47"/>
<rect x="163.64" y="1334.05" width="7.3" height="7.3" fill="#c24a47"/>
<rect x="190.32" y="1322.91" width="7.3" height="7.3" fill="#c24a47"/>
<rect x="217.01" y="1315.65" width="7.3" height="7.3" fill="#c24a47"/>
<rect x="243.7" y="1360.35" width="7.3" height="7.3" fill="#c24a47"/>
<rect x="270.38" y="1402.65" width="7.3" height="7.3" fill="#c24a47"/>
<rect x="297.07" y="1410.35" width="7.3" height="7.3" fill="#c24a47"/>
<rect x="323.76" y="1445.2" width="7.3" height="7.3" fill="#c24a47"/>
<rect x="350.44" y="1427.35" width="7.3" height="7.3" fill="#c24a47"/>
<rect x="377.13" y="1420" width="7.3" height="7.3" fill="#c24a47"/>
<rect x="403.82" y="1419.55" width="7.3" height="7.3" fill="#c24a47"/>
<rect x="430.5" y="1416.88" width="7.3" height="7.3" fill="#c24a47"/>
<rect x="457.19" y="1414.63" width="7.3" height="7.3" fill="#c24a47"/>
<rect x="483.87" y="1414.12" width="7.3" height="7.3" fill="#c24a47"/>
<rect x="510.56" y="1413.83" width="7.3" height="7.3" fill="#c24a47"/>
<rect x="537.25" y="1410.55" width="7.3" height="7.3" fill="#c24a47"/>
<rect x="563.93" y="1414.25" width="7.3" height="7.3" fill="#c24a47"/>
<rect x="590.62" y="1414.7" width="7.3" height="7.3" fill="#c24a47"/>
<rect x="617.31" y="1415.33" width="7.3" height="7.3" fill="#c24a47"/>
<polyline fill="none" stroke="#93bb4f" stroke-width="1.85" stroke-linejoin="round" stroke-linecap="round" points="60.54,1328.66 87.23,1295.7 113.92,1314.85 140.6,1270.7 167.29,1251.7 193.97,1212.68 220.66,1286 247.35,1336 274.03,1400.7 300.72,1422 327.41,1432.54 354.09,1399 380.78,1344.02 407.47,1346.2 434.15,1344.95 460.84,1347.92 487.52,1335.95 514.21,1343.66 540.9,1344.4 567.58,1366 594.27,1360.39 620.96,1377.6"/>
<path d="M60.54 1324.66L64.54 1332.06L56.54 1332.06Z" fill="#93bb4f"/>
<path d="M87.23 1291.7L91.23 1299.1L83.23 1299.1Z" fill="#93bb4f"/>
<path d="M113.92 1310.85L117.92 1318.25L109.92 1318.25Z" fill="#93bb4f"/>
<path d="M140.6 1266.7L144.6 1274.1L136.6 1274.1Z" fill="#93bb4f"/>
<path d="M167.29 1247.7L171.29 1255.1L163.29 1255.1Z" fill="#93bb4f"/>
<path d="M193.97 1208.68L197.97 1216.08L189.97 1216.08Z" fill="#93bb4f"/>
<path d="M220.66 1282L224.66 1289.4L216.66 1289.4Z" fill="#93bb4f"/>
<path d="M247.35 1332L251.35 1339.4L243.35 1339.4Z" fill="#93bb4f"/>
<path d="M274.03 1396.7L278.03 1404.1L270.03 1404.1Z" fill="#93bb4f"/>
<path d="M300.72 1418L304.72 1425.4L296.72 1425.4Z" fill="#93bb4f"/>
<path d="M327.41 1428.54L331.41 1435.94L323.41 1435.94Z" fill="#93bb4f"/>
<path d="M354.09 1395L358.09 1402.4L350.09 1402.4Z" fill="#93bb4f"/>
<path d="M380.78 1340.02L384.78 1347.42L376.78 1347.42Z" fill="#93bb4f"/>
<path d="M407.47 1342.2L411.47 1349.6L403.47 1349.6Z" fill="#93bb4f"/>
<path d="M434.15 1340.95L438.15 1348.35L430.15 1348.35Z" fill="#93bb4f"/>
<path d="M460.84 1343.92L464.84 1351.32L456.84 1351.32Z" fill="#93bb4f"/>
<path d="M487.52 1331.95L491.52 1339.35L483.52 1339.35Z" fill="#93bb4f"/>
<path d="M514.21 1339.66L518.21 1347.06L510.21 1347.06Z" fill="#93bb4f"/>
<path d="M540.9 1340.4L544.9 1347.8L536.9 1347.8Z" fill="#93bb4f"/>
<path d="M567.58 1362L571.58 1369.4L563.58 1369.4Z" fill="#93bb4f"/>
<path d="M594.27 1356.39L598.27 1363.79L590.27 1363.79Z" fill="#93bb4f"/>
<path d="M620.96 1373.6L624.96 1381L616.96 1381Z" fill="#93bb4f"/>
<text x="60.8" y="1310.3" class="dl" text-anchor="middle" fill="#8aa83a" stroke="#8aa83a">578.71</text>
<text x="112.15" y="1302" class="dl" text-anchor="middle" fill="#8aa83a" stroke="#8aa83a">605.70</text>
<text x="216.15" y="1216" class="dl" text-anchor="middle" fill="#8aa83a" stroke="#8aa83a">805.44</text>
<text x="325.8" y="1406.3" class="dl" text-anchor="middle" fill="#8aa83a" stroke="#8aa83a">375.63</text>
<text x="365.8" y="1332.3" class="dl" text-anchor="middle" fill="#8aa83a" stroke="#8aa83a">548.68</text>
<text x="433.65" y="1335" class="dl" text-anchor="middle" fill="#8aa83a" stroke="#8aa83a">546.86</text>
<text x="462.3" y="1338.3" class="dl" text-anchor="middle" fill="#8aa83a" stroke="#8aa83a">541.05</text>
<text x="486.85" y="1324.1" class="dl" text-anchor="middle" fill="#8aa83a" stroke="#8aa83a">564.45</text>
<text x="511.5" y="1334.1" class="dl" text-anchor="middle" fill="#8aa83a" stroke="#8aa83a">549.38</text>
<text x="619.05" y="1363.2" class="dl" text-anchor="middle" fill="#8aa83a" stroke="#8aa83a">483.03</text>
<text x="83.2" y="1345.7" class="dl" text-anchor="middle" fill="#1a86dc" stroke="#1a86dc">562.45</text>
<text x="136" y="1333.3" class="dl" text-anchor="middle" fill="#1a86dc" stroke="#1a86dc">586.23</text>
<text x="216.5" y="1234.7" class="dl" text-anchor="middle" fill="#1a86dc" stroke="#1a86dc">771.62</text>
<text x="326.8" y="1421.3" class="dl" text-anchor="middle" fill="#1a86dc" stroke="#1a86dc">373.59</text>
<text x="385" y="1384" class="dl" text-anchor="middle" fill="#1a86dc" stroke="#1a86dc">526.67</text>
<text x="435.85" y="1380.2" class="dl" text-anchor="middle" fill="#1a86dc" stroke="#1a86dc">526.07</text>
<text x="460.95" y="1380.2" class="dl" text-anchor="middle" fill="#1a86dc" stroke="#1a86dc">521.85</text>
<text x="490.7" y="1372" class="dl" text-anchor="middle" fill="#1a86dc" stroke="#1a86dc">541.68</text>
<text x="516.3" y="1372.7" class="dl" text-anchor="middle" fill="#1a86dc" stroke="#1a86dc">529.09</text>
<text x="612.85" y="1403.5" class="dl" text-anchor="middle" fill="#1a86dc" stroke="#1a86dc">472.84</text>
<text x="68.35" y="1403.3" class="dl" text-anchor="middle" fill="#f01418" stroke="#f01418">476.42</text>
<text x="114.8" y="1401" class="dl" text-anchor="middle" fill="#f01418" stroke="#f01418">483.25</text>
<text x="197" y="1345.7" class="dl" text-anchor="middle" fill="#f01418" stroke="#f01418">592.71</text>
<text x="343.85" y="1453" class="dl" text-anchor="middle" fill="#f01418" stroke="#f01418">362.84</text>
<text x="383.85" y="1442" class="dl" text-anchor="middle" fill="#f01418" stroke="#f01418">410.20</text>
<text x="433.4" y="1410.5" class="dl" text-anchor="middle" fill="#f01418" stroke="#f01418">416.08</text>
<text x="458.35" y="1433.4" class="dl" text-anchor="middle" fill="#f01418" stroke="#f01418">420.31</text>
<text x="486.85" y="1436.3" class="dl" text-anchor="middle" fill="#f01418" stroke="#f01418">421.26</text>
<text x="509.65" y="1405.1" class="dl" text-anchor="middle" fill="#f01418" stroke="#f01418">421.81</text>
<text x="615.7" y="1440.4" class="dl" text-anchor="middle" fill="#f01418" stroke="#f01418">418.98</text>
</svg>
</body></html>
